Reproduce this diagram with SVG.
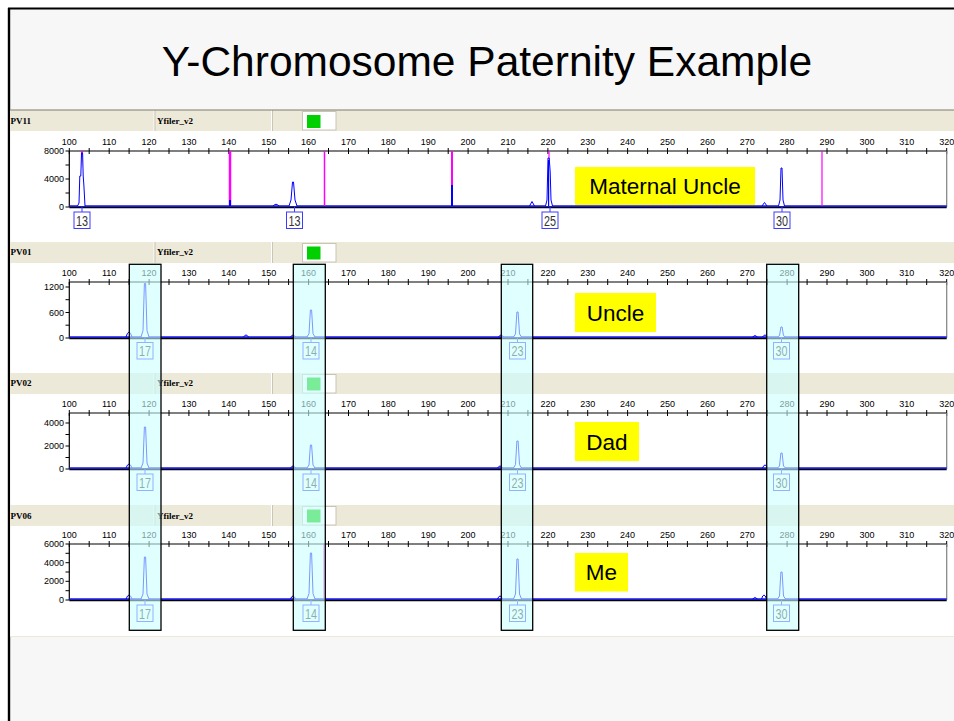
<svg xmlns="http://www.w3.org/2000/svg" width="954" height="721" viewBox="0 0 954 721">
  <style>
    .title { font-family: "Liberation Sans", Arial, sans-serif; font-size: 42.5px; fill: #000; }
    .hd { font-family: "Liberation Serif", "Times New Roman", serif; font-weight: bold; font-size: 9px; fill: #000; }
    .tk { font-family: "Liberation Sans", Arial, sans-serif; font-size: 9px; fill: #000; text-anchor: middle; }
    .yl { font-family: "Liberation Sans", Arial, sans-serif; font-size: 9px; fill: #000; text-anchor: end; }
    .tick { stroke: #000; stroke-width: 1; fill: none; }
    .ax { stroke: #000; stroke-width: 1.2; fill: none; }
    .rb { stroke: #808080; stroke-width: 1.2; fill: none; }
    .base { stroke: #1a1ad8; stroke-width: 1.8; fill: none; }
    .pk { stroke: #0000ff; stroke-width: 1; fill: #fff; stroke-linejoin: round; }
    .bump { stroke: #0000ff; stroke-width: 1; fill: none; }
    .mg { stroke: #ff00ff; fill: none; }
    .lbr { fill: #fff; stroke: #3c3cff; stroke-width: 1; }
    .lbl { font-family: "Liberation Sans", Arial, sans-serif; font-size: 14px; fill: #333; text-anchor: middle; }
    .hl { fill: #ccffff; fill-opacity: 0.6; stroke: #000; stroke-width: 1.3; }
    .tag { fill: #ffff00; }
    .tagt { font-family: "Liberation Sans", Arial, sans-serif; font-size: 22.5px; fill: #000; text-anchor: middle; }
  </style>
  <defs>
    <!-- panel header bar -->
    <g id="hdr">
      <rect x="10" y="0" width="944" height="21" fill="#ece9d8"/>
      <line x1="154" y1="0" x2="154" y2="21" stroke="#ffffff" stroke-width="1"/>
      <line x1="155" y1="0" x2="155" y2="21" stroke="#c9c6b6" stroke-width="1"/>
      <line x1="271.5" y1="0" x2="271.5" y2="21" stroke="#ffffff" stroke-width="1"/>
      <line x1="272.5" y1="0" x2="272.5" y2="21" stroke="#c9c6b6" stroke-width="1"/>
      <rect x="302.5" y="1.5" width="33.5" height="18.5" fill="#ffffff" stroke="#c8c5b5" stroke-width="1"/>
    </g>
    <!-- size axis with ticks and labels; y=0 is the top axis line, y=56 the zero line -->
    <g id="axis">
      <path class="tick" d="M69.3,-3v6M89.2,-3v6M109.2,-3v6M129.1,-3v6M149.1,-3v6M169,-3v6M188.9,-3v6M208.9,-3v6M228.8,-3v6M248.8,-3v6M268.7,-3v6M288.6,-3v6M308.6,-3v6M328.5,-3v6M348.5,-3v6M368.4,-3v6M388.3,-3v6M408.3,-3v6M428.2,-3v6M448.2,-3v6M468.1,-3v6M488,-3v6M508,-3v6M527.9,-3v6M547.9,-3v6M567.8,-3v6M587.7,-3v6M607.7,-3v6M627.6,-3v6M647.6,-3v6M667.5,-3v6M687.4,-3v6M707.4,-3v6M727.3,-3v6M747.3,-3v6M767.2,-3v6M787.1,-3v6M807.1,-3v6M827,-3v6M847,-3v6M866.9,-3v6M886.8,-3v6M906.8,-3v6M926.7,-3v6M946.7,-3v6"/>
      <text class="tk" x="69.3" y="-6">100</text>
      <text class="tk" x="109.2" y="-6">110</text>
      <text class="tk" x="149.1" y="-6">120</text>
      <text class="tk" x="188.9" y="-6">130</text>
      <text class="tk" x="228.8" y="-6">140</text>
      <text class="tk" x="268.7" y="-6">150</text>
      <text class="tk" x="308.6" y="-6">160</text>
      <text class="tk" x="348.5" y="-6">170</text>
      <text class="tk" x="388.3" y="-6">180</text>
      <text class="tk" x="428.2" y="-6">190</text>
      <text class="tk" x="468.1" y="-6">200</text>
      <text class="tk" x="508" y="-6">210</text>
      <text class="tk" x="547.9" y="-6">220</text>
      <text class="tk" x="587.7" y="-6">230</text>
      <text class="tk" x="627.6" y="-6">240</text>
      <text class="tk" x="667.5" y="-6">250</text>
      <text class="tk" x="707.4" y="-6">260</text>
      <text class="tk" x="747.3" y="-6">270</text>
      <text class="tk" x="787.1" y="-6">280</text>
      <text class="tk" x="827" y="-6">290</text>
      <text class="tk" x="866.9" y="-6">300</text>
      <text class="tk" x="906.8" y="-6">310</text>
      <text class="tk" x="946.7" y="-6">320</text>
      <line class="ax" x1="69.3" y1="0" x2="946.7" y2="0"/>
      <line class="ax" x1="69.3" y1="0" x2="69.3" y2="56"/>
      <line class="rb" x1="946.7" y1="0" x2="946.7" y2="56"/>
      <line class="ax" x1="69.3" y1="56.6" x2="946.7" y2="56.6"/>
      <line class="base" x1="69.3" y1="55.2" x2="946.7" y2="55.2"/>
    </g>
    <!-- allele call box with its lead line -->
    <g id="lbx">
      <line x1="0" y1="-5" x2="0" y2="0" stroke="#3c3cff" stroke-width="1"/>
      <rect class="lbr" x="-8" y="0" width="16" height="16.5"/>
    </g>
  </defs>

  <!-- slide -->
  <rect x="0" y="0" width="954" height="721" fill="#ffffff"/>
  <rect x="9" y="9" width="945" height="712" fill="#f7f7f7"/>
  <line x1="8" y1="8.5" x2="954" y2="8.5" stroke="#000" stroke-width="1.8"/>
  <line x1="9" y1="8" x2="9" y2="721" stroke="#000" stroke-width="2.4"/>
  <text class="title" x="487" y="75.5" text-anchor="middle">Y-Chromosome Paternity Example</text>

  <!-- electropherogram area -->
  <rect x="10.2" y="110" width="943.8" height="526" fill="#ffffff"/>
  <line x1="10.2" y1="636.5" x2="954" y2="636.5" stroke="#ece9d8" stroke-width="1"/>

  <!-- PV11 : maternal uncle -->
  <g id="panel-pv11">
    <use href="#hdr" transform="translate(0,110)"/>
    <line x1="10.2" y1="110" x2="954" y2="110" stroke="#7f7c6a" stroke-width="1"/>
    <rect x="307" y="115" width="13.5" height="13" fill="#00d000"/>
    <text class="hd" x="10.5" y="124">PV11</text>
    <text class="hd" x="157" y="124">Yfiler_v2</text>
    <use href="#axis" transform="translate(0,151)"/>
    <path class="tick" d="M65.5,151H69.3M65.5,165H69.3M65.5,179H69.3M65.5,193H69.3M65.5,207H69.3"/>
    <text class="yl" x="64" y="154">8000</text>
    <text class="yl" x="64" y="182">4000</text>
    <text class="yl" x="64" y="210">0</text>
    <!-- size standard -->
    <line class="mg" x1="82" y1="151" x2="82" y2="206" stroke-width="2"/>
    <line class="mg" x1="230" y1="151" x2="230" y2="206" stroke-width="2.5"/>
    <line class="mg" x1="324.5" y1="151" x2="324.5" y2="206" stroke-width="1.5"/>
    <line class="mg" x1="452" y1="151" x2="452" y2="185" stroke-width="2"/>
    <line x1="452" y1="185" x2="452" y2="206" stroke="#0000ff" stroke-width="2"/>
    <line class="mg" x1="549" y1="151" x2="549" y2="206" stroke-width="1.2"/>
    <line class="mg" x1="822" y1="151" x2="822" y2="206" stroke-width="1.2"/>
    <!-- trace -->
    <line x1="230" y1="200" x2="230" y2="206" stroke="#0000ff" stroke-width="2"/>
    <path class="pk" fill="none" d="M77.5,206L79,203L79.8,176L80.8,176L81.5,153L82.6,153L83.2,176L83.8,184L85,206"/>
    <path class="bump" d="M273,206Q276,202.5 279,206"/>
    <path class="pk" d="M289,206L291,200L292.5,182L293.5,182L295,200L297,206"/>
    <path class="bump" d="M529.5,206L532,201.5L534.5,206"/>
    <path class="pk" fill="none" d="M545.5,206L547,200L548,158L549.2,158L550.2,172L551,200L552.5,206"/>
    <line x1="548.6" y1="160" x2="548.6" y2="206" stroke="#0000ff" stroke-width="1.2"/>
    <path class="bump" d="M762,206L764.5,202.5L767,206"/>
    <path class="pk" d="M778.5,206L780,200L781,168L782,168L783,200L784.5,206"/>
    <!-- allele calls -->
    <g transform="translate(82,212)"><use href="#lbx"/><text class="lbl" x="0" y="13.5" textLength="12" lengthAdjust="spacingAndGlyphs">13</text></g>
    <g transform="translate(294.5,212)"><use href="#lbx"/><text class="lbl" x="0" y="13.5" textLength="12" lengthAdjust="spacingAndGlyphs">13</text></g>
    <g transform="translate(550,212)"><use href="#lbx"/><text class="lbl" x="0" y="13.5" textLength="12" lengthAdjust="spacingAndGlyphs">25</text></g>
    <g transform="translate(782,212)"><use href="#lbx"/><text class="lbl" x="0" y="13.5" textLength="12" lengthAdjust="spacingAndGlyphs">30</text></g>
  </g>

  <!-- PV01 : uncle -->
  <g id="panel-pv01">
    <use href="#hdr" transform="translate(0,242)"/>
    <rect x="307" y="246.5" width="13.5" height="13" fill="#00d000"/>
    <text class="hd" x="10.5" y="254.5">PV01</text>
    <text class="hd" x="157" y="254.5">Yfiler_v2</text>
    <use href="#axis" transform="translate(0,282)"/>
    <path class="tick" d="M65.5,287H69.3M65.5,299.7H69.3M65.5,312.5H69.3M65.5,325.2H69.3M65.5,338H69.3"/>
    <text class="yl" x="64" y="290">1200</text>
    <text class="yl" x="64" y="315.5">600</text>
    <text class="yl" x="64" y="341">0</text>
    <path class="bump" d="M126,337Q129,327 132,337M243.5,337Q246,333 248.5,337M290.5,337Q293,333 295.5,337M498.5,337Q501,333 503.5,337M752.5,337Q755,334 757.5,337M762.5,337Q765,333 767.5,337"/>
    <path class="pk" d="M141,337L143,330.5L144.4,283.5L145.6,283.5L147,330.5L149,337"/>
    <path class="pk" d="M307,337L309,333.6L310.4,310L311.6,310L313,333.6L315,337"/>
    <path class="pk" d="M513.5,337L515.5,333.9L516.9,312L518.1,312L519.5,333.9L521.5,337"/>
    <path class="pk" d="M777.5,337L779.5,335.7L780.9,327L782.1,327L783.5,335.7L785.5,337"/>
    <g transform="translate(145,342.5)"><use href="#lbx"/><text class="lbl" x="0" y="13.5" textLength="12" lengthAdjust="spacingAndGlyphs">17</text></g>
    <g transform="translate(311,342.5)"><use href="#lbx"/><text class="lbl" x="0" y="13.5" textLength="12" lengthAdjust="spacingAndGlyphs">14</text></g>
    <g transform="translate(517.5,342.5)"><use href="#lbx"/><text class="lbl" x="0" y="13.5" textLength="12" lengthAdjust="spacingAndGlyphs">23</text></g>
    <g transform="translate(781.5,342.5)"><use href="#lbx"/><text class="lbl" x="0" y="13.5" textLength="12" lengthAdjust="spacingAndGlyphs">30</text></g>
  </g>

  <!-- PV02 : dad -->
  <g id="panel-pv02">
    <use href="#hdr" transform="translate(0,373)"/>
    <rect x="307" y="377.5" width="13.5" height="13" fill="#00d000"/>
    <text class="hd" x="10.5" y="386">PV02</text>
    <text class="hd" x="157" y="386">Yfiler_v2</text>
    <use href="#axis" transform="translate(0,413)"/>
    <path class="tick" d="M65.5,423H69.3M65.5,434.5H69.3M65.5,446H69.3M65.5,457.5H69.3M65.5,469H69.3"/>
    <text class="yl" x="64" y="426">4000</text>
    <text class="yl" x="64" y="449">2000</text>
    <text class="yl" x="64" y="472">0</text>
    <path class="bump" d="M126,468Q129,460 132,468M290.5,468Q293,464 295.5,468M497.5,468Q500,464 502.5,468M762.5,468Q765,462 767.5,468"/>
    <path class="pk" d="M141,468L143,463L144.4,427L145.6,427L147,463L149,468"/>
    <path class="pk" d="M307,468L309,465L310.4,445L311.6,445L313,465L315,468"/>
    <path class="pk" d="M513.5,468L515.5,464.6L516.9,441L518.1,441L519.5,464.6L521.5,468"/>
    <path class="pk" d="M777.5,468L779.5,466L780.9,453L782.1,453L783.5,466L785.5,468"/>
    <g transform="translate(145,474)"><use href="#lbx"/><text class="lbl" x="0" y="13.5" textLength="12" lengthAdjust="spacingAndGlyphs">17</text></g>
    <g transform="translate(311,474)"><use href="#lbx"/><text class="lbl" x="0" y="13.5" textLength="12" lengthAdjust="spacingAndGlyphs">14</text></g>
    <g transform="translate(517.5,474)"><use href="#lbx"/><text class="lbl" x="0" y="13.5" textLength="12" lengthAdjust="spacingAndGlyphs">23</text></g>
    <g transform="translate(781.5,474)"><use href="#lbx"/><text class="lbl" x="0" y="13.5" textLength="12" lengthAdjust="spacingAndGlyphs">30</text></g>
  </g>

  <!-- PV06 : me -->
  <g id="panel-pv06">
    <use href="#hdr" transform="translate(0,505)"/>
    <rect x="307" y="509.5" width="13.5" height="13" fill="#00d000"/>
    <text class="hd" x="10.5" y="518.5">PV06</text>
    <text class="hd" x="157" y="518.5">Yfiler_v2</text>
    <use href="#axis" transform="translate(0,544)"/>
    <path class="tick" d="M65.5,544H69.3M65.5,553.3H69.3M65.5,562.7H69.3M65.5,572H69.3M65.5,581.3H69.3M65.5,590.7H69.3M65.5,600H69.3"/>
    <text class="yl" x="64" y="547">6000</text>
    <text class="yl" x="64" y="565.7">4000</text>
    <text class="yl" x="64" y="584.3">2000</text>
    <text class="yl" x="64" y="603">0</text>
    <line class="mg" x1="324" y1="544" x2="324" y2="599" stroke-width="1"/>
    <path class="bump" d="M126,599Q129,591 132,599M290.5,599Q293,593 295.5,599M497.5,599Q500,593 502.5,599M752.5,599Q755,596 757.5,599M761.5,599Q764,591 766.5,599"/>
    <path class="pk" d="M141,599L143,594L144.4,557L145.6,557L147,594L149,599"/>
    <path class="pk" d="M307,599L309,593.5L310.4,553L311.6,553L313,593.5L315,599"/>
    <path class="pk" d="M513.5,599L515.5,594L516.9,559L518.1,559L519.5,594L521.5,599"/>
    <path class="pk" d="M777.5,599L779.5,596L780.9,572L782.1,572L783.5,596L785.5,599"/>
    <g transform="translate(145,605)"><use href="#lbx"/><text class="lbl" x="0" y="13.5" textLength="12" lengthAdjust="spacingAndGlyphs">17</text></g>
    <g transform="translate(311,605)"><use href="#lbx"/><text class="lbl" x="0" y="13.5" textLength="12" lengthAdjust="spacingAndGlyphs">14</text></g>
    <g transform="translate(517.5,605)"><use href="#lbx"/><text class="lbl" x="0" y="13.5" textLength="12" lengthAdjust="spacingAndGlyphs">23</text></g>
    <g transform="translate(781.5,605)"><use href="#lbx"/><text class="lbl" x="0" y="13.5" textLength="12" lengthAdjust="spacingAndGlyphs">30</text></g>
  </g>

  <!-- shared-allele highlight columns -->
  <g id="highlights">
    <rect class="hl" x="129.3" y="264.3" width="31.7" height="366"/>
    <rect class="hl" x="293.3" y="264.3" width="32" height="366"/>
    <rect class="hl" x="501.3" y="264.3" width="31.4" height="366"/>
    <rect class="hl" x="766.7" y="264.3" width="32" height="366"/>
  </g>

  <!-- relationship tags -->
  <g id="tag-maternal-uncle">
    <rect class="tag" x="575" y="167" width="180" height="38"/>
    <text class="tagt" x="665" y="194">Maternal Uncle</text>
  </g>
  <g id="tag-uncle">
    <rect class="tag" x="575" y="293" width="81" height="39"/>
    <text class="tagt" x="615.5" y="320.5">Uncle</text>
  </g>
  <g id="tag-dad">
    <rect class="tag" x="575" y="422" width="64" height="39"/>
    <text class="tagt" x="607" y="449.5">Dad</text>
  </g>
  <g id="tag-me">
    <rect class="tag" x="575" y="553" width="53" height="38.5"/>
    <text class="tagt" x="601.5" y="580">Me</text>
  </g>
</svg>
